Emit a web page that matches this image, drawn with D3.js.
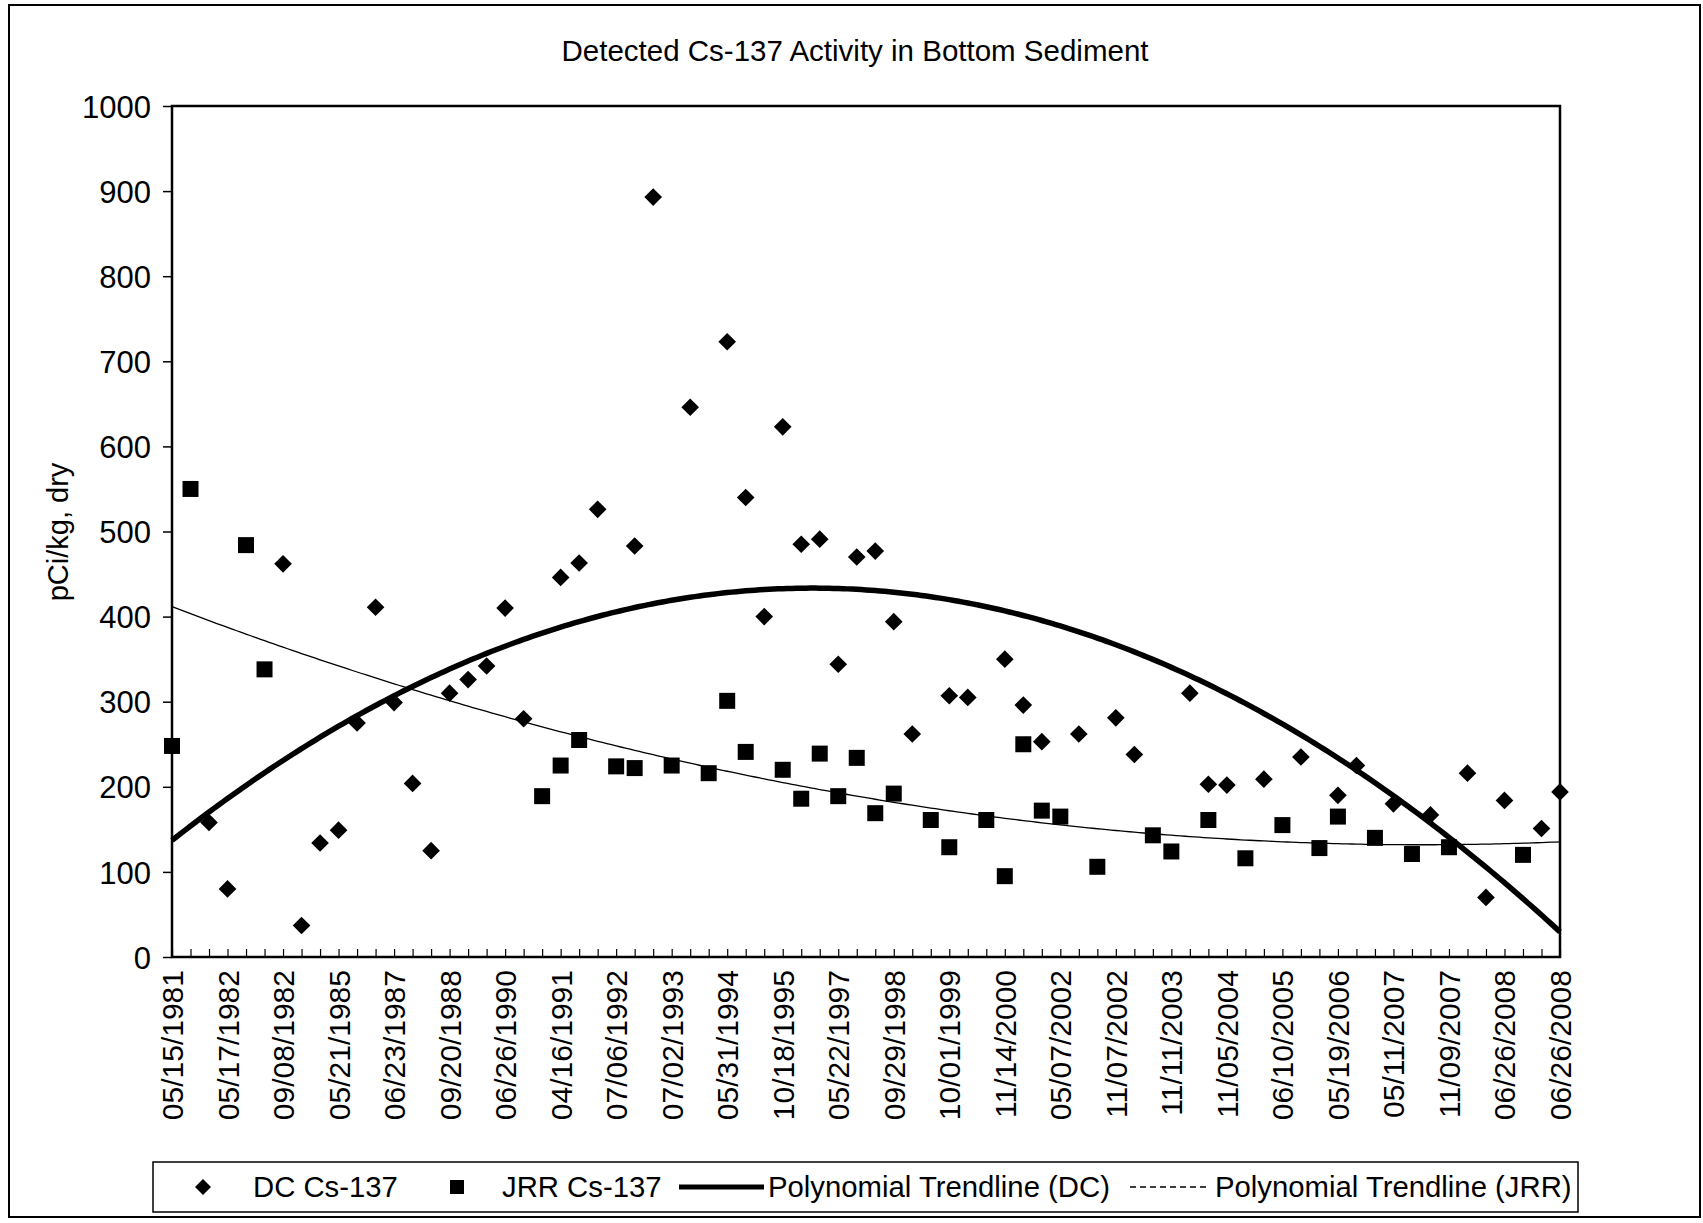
<!DOCTYPE html>
<html>
<head>
<meta charset="utf-8">
<script src="https://cdn.jsdelivr.net/npm/d3@7"></script>
<style>
  body { margin: 0; background: #fff; }
  svg text { font-family: "Liberation Sans", Arial, sans-serif; fill: #000; }
</style>
</head>
<body>
<svg id="chart" width="1703" height="1223"></svg>
<script>
// axis labels shown on every 3rd sample
var tickLabels = ["05/15/1981", "05/17/1982", "09/08/1982", "05/21/1985", "06/23/1987", "09/20/1988",
  "06/26/1990", "04/16/1991", "07/06/1992", "07/02/1993", "05/31/1994", "10/18/1995", "05/22/1997",
  "09/29/1998", "10/01/1999", "11/14/2000", "05/07/2002", "11/07/2002", "11/11/2003", "11/05/2004",
  "06/10/2005", "05/19/2006", "05/11/2007", "11/09/2007", "06/26/2008", "06/26/2008"];
var labelEvery = 3;

// pCi/kg dry, one slot per sample (null = not sampled)
var dcValues = [null, null, 158, 80, null, null, 462, 37, 134, 149,
  275, 411, 299, 204, 125, 310, 326, 342, 410, 280,
  null, 446, 463, 526, null, 483, 893, null, 646, null,
  723, 540, 400, 623, 485, 491, 344, 470, 477, 394,
  262, null, 307, 305, null, 350, 296, 253, null, 262,
  null, 281, 238, null, null, 310, 203, 202, null, 209,
  null, 235, null, 190, 225, null, 180, null, 167, null,
  216, 70, 184, null, 151, 194];
var jrrValues = [248, 550, null, null, 484, 338, null, null, null, null,
  null, null, null, null, null, null, null, null, null, null,
  189, 225, 255, null, 224, 222, null, 225, null, 216,
  301, 241, null, 220, 186, 239, 189, 234, 169, 192,
  null, 161, 129, null, 161, 95, 250, 172, 165, null,
  106, null, null, 143, 124, null, 161, null, 116, null,
  155, null, 128, 165, null, 140, null, 121, null, 129,
  null, null, null, 120, null, null];
var yTicks = [0, 100, 200, 300, 400, 500, 600, 700, 800, 900, 1000];

var svg = d3.select("#chart"),
    margin = {top: 106, right: 143, bottom: 266, left: 172},
    width = +svg.attr("width") - margin.left - margin.right,
    height = +svg.attr("height") - margin.top - margin.bottom,
    g = svg.append("g").attr("transform", "translate(" + margin.left + "," + margin.top + ")");

var n = dcValues.length;
var x = d3.scaleLinear().domain([0, n - 1]).range([0, width]);
var y = d3.scaleLinear().domain([0, 1000]).range([height, 0]);

// least squares, 2nd order, like the spreadsheet trendline
function polyFit(values) {
  var pts = values.map(function(v, i) { return [i, v]; }).filter(function(p) { return p[1] != null; });
  var S = [0, 0, 0, 0, 0], T = [0, 0, 0];
  pts.forEach(function(p) {
    for (var k = 0; k < 5; k++) S[k] += Math.pow(p[0], k);
    for (var k = 0; k < 3; k++) T[k] += p[1] * Math.pow(p[0], k);
  });
  var A = [[S[0], S[1], S[2], T[0]], [S[1], S[2], S[3], T[1]], [S[2], S[3], S[4], T[2]]];
  for (var c = 0; c < 3; c++) {
    for (var r = c + 1; r < 3; r++) {
      var f = A[r][c] / A[c][c];
      for (var k = c; k < 4; k++) A[r][k] -= f * A[c][k];
    }
  }
  var coef = [0, 0, 0];
  for (var r = 2; r >= 0; r--) {
    var s = A[r][3];
    for (var k = r + 1; k < 3; k++) s -= A[r][k] * coef[k];
    coef[r] = s / A[r][r];
  }
  return function(t) { return coef[0] + coef[1] * t + coef[2] * t * t; };
}

// outer chart border
svg.append("rect")
    .attr("x", 9).attr("y", 5).attr("width", 1691).attr("height", 1212)
    .attr("fill", "none").attr("stroke", "#000").attr("stroke-width", 2);

svg.append("text")
    .attr("x", 855).attr("y", 61)
    .attr("text-anchor", "middle")
    .style("font-size", "29.5px")
    .text("Detected Cs-137 Activity in Bottom Sediment");

// y axis
var yAxis = g.append("g")
    .call(d3.axisLeft(y).tickValues(yTicks).tickSize(9).tickPadding(12).tickFormat(d3.format("d")));
yAxis.select(".domain").remove();
yAxis.selectAll("line").attr("stroke", "#000").attr("stroke-width", 1.5);
yAxis.selectAll("text").style("font-size", "31px").attr("dy", "0.36em");

svg.append("text")
    .attr("transform", "translate(58," + (margin.top + 426) + ") rotate(-90)")
    .attr("text-anchor", "middle")
    .attr("dy", "0.35em")
    .style("font-size", "29px")
    .text("pCi/kg, dry");

// x axis: tick per sample, inside; label every 3rd
var xAxis = g.append("g")
    .attr("transform", "translate(0," + height + ")")
    .call(d3.axisBottom(x)
      .tickValues(d3.range(n))
      .tickSize(-8)
      .tickFormat(function(d) { return d % labelEvery === 0 ? tickLabels[d / labelEvery] : ""; }));
xAxis.select(".domain").remove();
xAxis.selectAll("line").attr("stroke", "#000").attr("stroke-width", 1.2);
xAxis.selectAll("text")
    .attr("y", 0)
    .attr("x", -13)
    .attr("dy", "0.35em")
    .attr("transform", "rotate(-90)")
    .style("text-anchor", "end")
    .style("font-size", "30px");

// plot frame
g.append("rect")
    .attr("width", width).attr("height", height)
    .attr("fill", "none").attr("stroke", "#000").attr("stroke-width", 2.5);

// trendlines
var fitDC = polyFit(dcValues), fitJRR = polyFit(jrrValues);
var steps = d3.range(0, n - 1 + 0.001, 0.25);
var trend = function(fn) {
  return d3.line().x(function(t) { return x(t); }).y(function(t) { return y(fn(t)); });
};
g.append("path").datum(steps)
    .attr("fill", "none").attr("stroke", "#000").attr("stroke-width", 1.3)
    .attr("d", trend(fitJRR));
g.append("path").datum(steps)
    .attr("fill", "none").attr("stroke", "#000").attr("stroke-width", 5.5)
    .attr("d", trend(fitDC));

// markers
var diamond = d3.symbol().type(d3.symbolSquare).size(156);
var square = d3.symbol().type(d3.symbolSquare).size(256);

g.append("g").selectAll("path")
    .data(dcValues.map(function(v, i) { return {i: i, v: v}; }).filter(function(d) { return d.v != null; }))
    .enter().append("path")
    .attr("d", diamond)
    .attr("fill", "#000")
    .attr("transform", function(d) { return "translate(" + x(d.i) + "," + y(d.v) + ") rotate(45)"; });

g.append("g").selectAll("path")
    .data(jrrValues.map(function(v, i) { return {i: i, v: v}; }).filter(function(d) { return d.v != null; }))
    .enter().append("path")
    .attr("d", square)
    .attr("fill", "#000")
    .attr("transform", function(d) { return "translate(" + x(d.i) + "," + y(d.v) + ")"; });

// legend
var lg = svg.append("g");
var ly = 1187;
lg.append("rect")
    .attr("x", 153).attr("y", 1162).attr("width", 1425).attr("height", 50)
    .attr("fill", "#fff").attr("stroke", "#000").attr("stroke-width", 1.5);
lg.append("path").attr("d", d3.symbol().type(d3.symbolSquare).size(128)).attr("fill", "#000")
    .attr("transform", "translate(203," + ly + ") rotate(45)");
lg.append("path").attr("d", d3.symbol().type(d3.symbolSquare).size(196)).attr("fill", "#000")
    .attr("transform", "translate(457," + ly + ")");
lg.append("line").attr("x1", 679).attr("x2", 764).attr("y1", ly).attr("y2", ly)
    .attr("stroke", "#000").attr("stroke-width", 5);
lg.append("line").attr("x1", 1130).attr("x2", 1208).attr("y1", ly).attr("y2", ly)
    .attr("stroke", "#000").attr("stroke-width", 1.3).attr("stroke-dasharray", "6,4");
var legendText = [["DC Cs-137", 253], ["JRR Cs-137", 502], ["Polynomial Trendline (DC)", 768], ["Polynomial Trendline (JRR)", 1215]];
lg.selectAll("text.lt")
    .data(legendText)
    .enter().append("text")
    .attr("class", "lt")
    .attr("x", function(d) { return d[1]; })
    .attr("y", ly)
    .attr("dy", "0.35em")
    .style("font-size", "29.3px")
    .text(function(d) { return d[0]; });
</script>
</body>
</html>
